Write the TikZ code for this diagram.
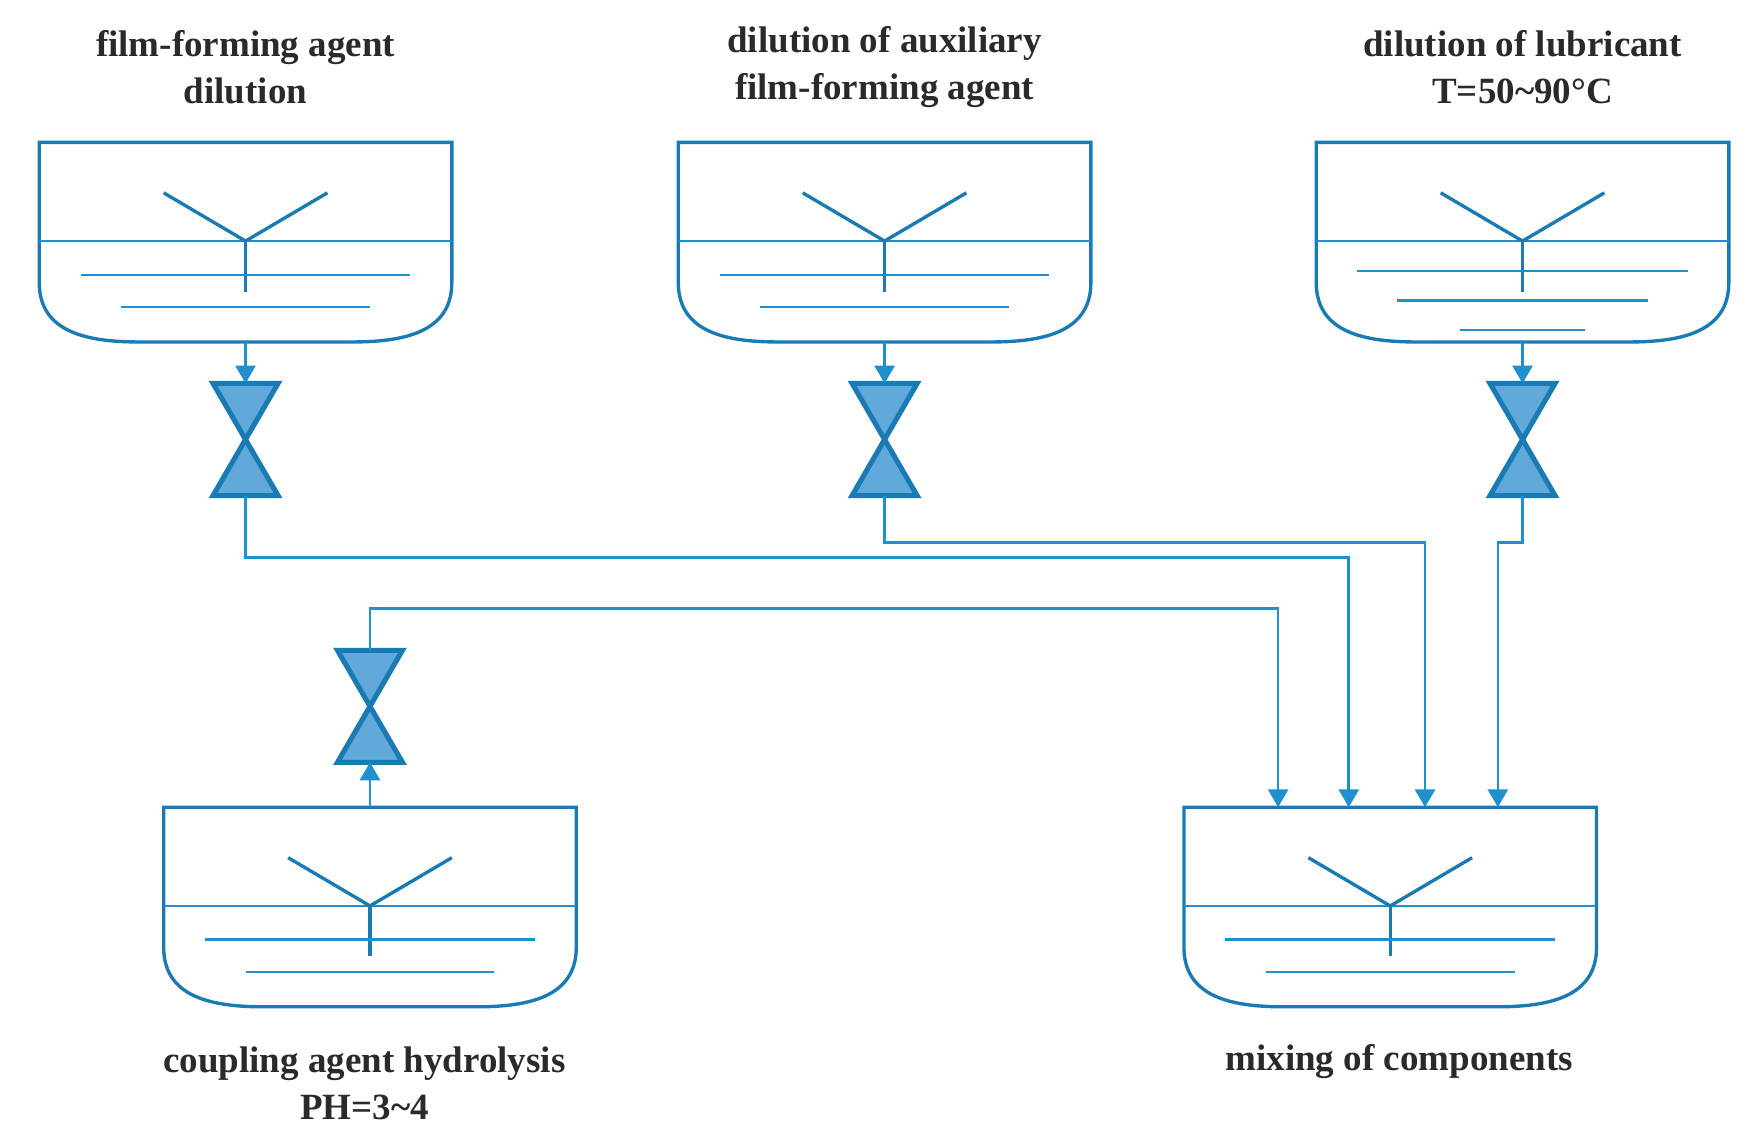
\documentclass[tikz,border=0pt]{standalone}
\usepackage{fontspec}
\setmainfont{Liberation Serif}
\usetikzlibrary{arrows.meta}
\definecolor{ln}{HTML}{1E90CF}
\definecolor{dk}{HTML}{1A7AB3}
\definecolor{vf}{HTML}{62A9DB}
\definecolor{tx}{HTML}{2A2A2A}
\begin{document}
\begin{tikzpicture}[x=1pt,y=-1pt,
  pipe/.style={ln,line width=2.4pt},
  flow/.style={pipe,-{Triangle[width=18pt,length=16pt]}},
  lbl/.style={font=\fontsize{33}{42}\selectfont\bfseries,text=tx,align=center},
  valve/.style={fill=vf,draw=dk,line width=4.5pt,line join=miter}]
\useasboundingbox (0,0) rectangle (1560,1017);
\newcommand\tank[4]{%
  \coordinate (#1t) at (#2,#3);
  \coordinate (#1b) at (#2,#3+178);
  \draw[dk,line width=3pt] (#2-184,#3) -- (#2+184,#3) -- (#2+184,#3+125)
     .. controls (#2+184,#3+170) and (#2+140,#3+178) .. (#2+95,#3+178) -- (#2-95,#3+178)
     .. controls (#2-140,#3+178) and (#2-184,#3+170) .. (#2-184,#3+125) -- cycle;
  \draw[ln,line width=2pt] (#2-184,#3+88) -- (#2+184,#3+88);
  \draw[dk,line width=3pt] (#2-73,#3+45) -- (#2,#3+88) -- (#2+73,#3+45);
  \draw[dk,line width=3pt] (#2,#3+88) -- (#2,#3+133);
  #4
}
\newcommand\vlv[3]{%
  \coordinate (#1t) at (#2,#3);
  \coordinate (#1b) at (#2,#3+100);
  \filldraw[valve] (#2-29,#3) -- (#2+29,#3) -- (#2-29,#3+100) -- (#2+29,#3+100) -- cycle;
}
\tank{A}{219}{127}{\draw[ln,line width=2pt] (72,245)--(366,245) (108,274)--(330,274);}
\tank{B}{789}{127}{\draw[ln,line width=2pt] (642,245)--(936,245) (678,274)--(900,274);}
\tank{C}{1358}{127}{\draw[ln,line width=2pt] (1210,242)--(1506,242) (1246,268)--(1470,268) (1302,294)--(1414,294);}
\tank{D}{330}{720}{\draw[ln,line width=2pt] (183,838)--(477,838) (219,867)--(441,867);}
\tank{E}{1240}{720}{\draw[ln,line width=2pt] (1093,838)--(1387,838) (1129,867)--(1351,867);}
\vlv{VA}{219}{342}
\vlv{VB}{789}{342}
\vlv{VC}{1358}{342}
\vlv{VD}{330}{580}
\draw[flow] (Ab) -- (VAt);
\draw[flow] (Bb) -- (VBt);
\draw[flow] (Cb) -- (VCt);
\draw[flow] (Dt) -- (VDb);
\coordinate (E1) at (1140,720);
\coordinate (E2) at (1203,720);
\coordinate (E3) at (1271,720);
\coordinate (E4) at (1336,720);
\draw[flow] (VDt) |- (1140,543) -- (E1);
\draw[flow] (VAb) |- (1203,497) -- (E2);
\draw[flow] (VBb) |- (1271,484) -- (E3);
\draw[flow] (VCb) |- (1336,484) -- (E4);
\node[lbl] (LA) at (219,60) {film-forming agent\\dilution};
\node[lbl] (LB) at (789,60) {dilution of auxiliary\\film-forming agent};
\node[lbl] (LC) at (1358,60) {dilution of lubricant\\T=50\textasciitilde90°C};
\node[lbl] (LD) at (325,966) {coupling agent hydrolysis\\PH=3\textasciitilde4};
\node[lbl] (LE) at (1248,947) {mixing of components};
\end{tikzpicture}
\end{document}
